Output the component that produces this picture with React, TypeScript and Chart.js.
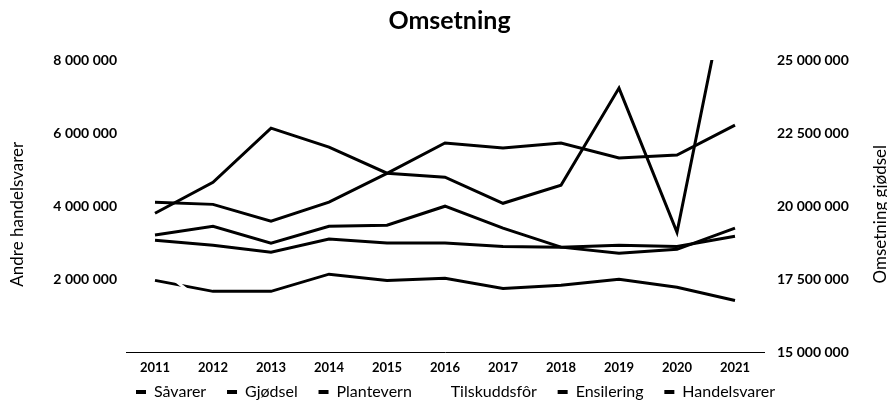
import { useEffect, useRef } from 'react';
import { Chart, registerables } from 'chart.js';
Chart.register(...registerables);

const years = ['2011', '2012', '2013', '2014', '2015', '2016', '2017', '2018', '2019', '2020', '2021'];
const savarer = [4110000, 4050000, 3590000, 4110000, 4900000, 5730000, 5590000, 5730000, 5320000, 5400000, 6220000];
const gjodsel = [19760000, 20820000, 22670000, 22020000, 21130000, 20990000, 20100000, 20720000, 24040000, 19110000, 28900000];
const plantevern = [3210000, 3450000, 2990000, 3450000, 3480000, 4000000, 3400000, 2880000, 2710000, 2820000, 3400000];
const tilskuddsfor = [2400000, 1150000, 1100000, 1200000, 1150000, 1100000, 1200000, 1150000, 1100000, 1100000, 1050000];
const ensilering = [1970000, 1670000, 1670000, 2140000, 1970000, 2030000, 1750000, 1840000, 2000000, 1780000, 1420000];
const handelsvarer = [3070000, 2930000, 2740000, 3100000, 2990000, 2990000, 2900000, 2880000, 2930000, 2900000, 3180000];

const leftTitle = 'Andre handelsvarer';
const rightTitle = 'Omsetning gjødsel';
const chartTitle = 'Omsetning';

const FONT = 'Lato';

export default function App() {
  const ref = useRef<HTMLCanvasElement>(null);
  useEffect(() => {
    const fmt = (v: number) => String(Math.round(v)).replace(/\B(?=(\d{3})+(?!\d))/g, ' ');
    const axisTitles = {
      id: 'axisTitles',
      afterDraw(chart: any) {
        const ctx = chart.ctx as CanvasRenderingContext2D;
        const cy = (chart.chartArea.top + chart.chartArea.bottom) / 2 + 8;
        const drawV = (text: string, x: number) => {
          ctx.save();
          ctx.fillStyle = '#000';
          ctx.font = `17px ${FONT}`;
          ctx.textAlign = 'center';
          ctx.textBaseline = 'middle';
          ctx.translate(x, cy);
          ctx.rotate(-Math.PI / 2);
          ctx.fillText(text, 0, 0);
          ctx.restore();
        };
        drawV(leftTitle, 18);
        drawV(rightTitle, 881);

        // legend
        const sets = chart.data.datasets;
        ctx.save();
        ctx.font = `16px ${FONT}`;
        ctx.textBaseline = 'middle';
        ctx.textAlign = 'left';
        const markW = 10;
        const gap = 8;
        const startX = 136;
        const endX = 775;
        const ly = 392;
        const widths = sets.map((d: any) => ctx.measureText(d.label).width);
        const total = widths.reduce((a: number, b: number) => a + b, 0) + sets.length * (markW + gap);
        const spacing = (endX - startX - total) / (sets.length - 1);
        let x = startX;
        sets.forEach((d: any, i: number) => {
          ctx.fillStyle = d.borderColor;
          ctx.fillRect(x, ly - 2, markW, 4);
          ctx.fillStyle = '#000';
          ctx.fillText(d.label, x + markW + gap, ly);
          x += markW + gap + widths[i] + spacing;
        });
        ctx.restore();
      },
    };
    const mk = (label: string, data: number[], color: string, axis: string) => ({
      label,
      data,
      borderColor: color,
      backgroundColor: color,
      borderWidth: 3,
      pointRadius: 0,
      tension: 0,
      yAxisID: axis,
    });
    const chart = new Chart(ref.current!, {
      type: 'line',
      data: {
        labels: years,
        datasets: [
          mk('Såvarer', savarer, '#000', 'y'),
          mk('Gjødsel', gjodsel, '#000', 'y1'),
          mk('Plantevern', plantevern, '#000', 'y'),
          mk('Tilskuddsfôr', tilskuddsfor, '#fff', 'y'),
          mk('Ensilering', ensilering, '#000', 'y'),
          mk('Handelsvarer', handelsvarer, '#000', 'y'),
        ],
      },
      options: {
        animation: false,
        responsive: true,
        maintainAspectRatio: false,
        layout: { padding: { left: 12, right: 0, top: 0, bottom: 24 } },
        plugins: {
          title: {
            display: true,
            text: chartTitle,
            color: '#000',
            font: { family: FONT, size: 25, weight: 'bold' },
            padding: { top: 6, bottom: 24 },
          },
          legend: { display: false },
          tooltip: { enabled: false },
        },
        scales: {
          x: {
            offset: true,
            grid: { display: false, drawTicks: false },
            border: { display: true, color: '#000', width: 1 },
            ticks: { color: '#000', font: { family: FONT, size: 13, weight: 'bold' }, padding: 8, maxRotation: 0 },
          },
          y: {
            position: 'left',
            min: 0,
            max: 8000000,
            grid: { display: false, drawTicks: false },
            border: { display: false },
            ticks: {
              stepSize: 2000000,
              color: '#000',
              font: { family: FONT, size: 14, weight: 'bold' },
              padding: 9,
              callback: (v: any) => (Number(v) === 0 ? '' : fmt(Number(v))),
            },
            afterFit: (s: any) => {
              s.width = 114;
            },
          },
          y1: {
            position: 'right',
            min: 15000000,
            max: 25000000,
            grid: { display: false, drawTicks: false },
            border: { display: false },
            ticks: {
              stepSize: 2500000,
              color: '#000',
              font: { family: FONT, size: 14, weight: 'bold' },
              padding: 13,
              callback: (v: any) => fmt(Number(v)),
            },
            afterFit: (s: any) => {
              s.width = 123;
            },
          },
        },
      } as any,
      plugins: [axisTitles],
    });
    return () => chart.destroy();
  }, []);
  return (
    <div style={{ position: 'absolute', left: 0, top: 0, width: 887, height: 408 }}>
      <canvas ref={ref} />
    </div>
  );
}
